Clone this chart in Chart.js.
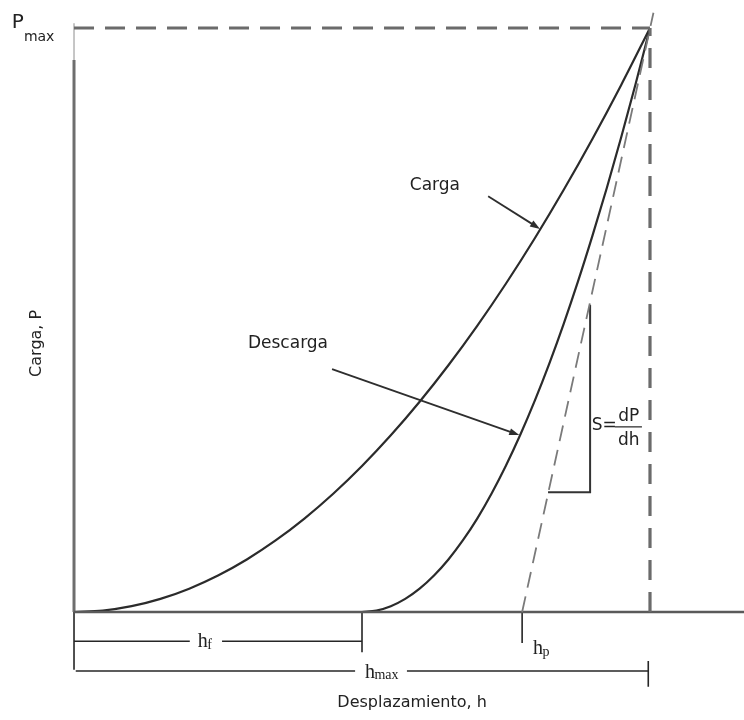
<!DOCTYPE html>
<html>
<head>
<meta charset="utf-8">
<script src="https://cdn.jsdelivr.net/npm/chart.js@4/dist/chart.umd.min.js"></script>
<style>
  html, body { margin: 0; padding: 0; background: #ffffff; }
  #c { display: block; }
</style>
</head>
<body>
<canvas id="c" width="744" height="720"></canvas>
<script>
// Indentation curve: displacement h (hmax = 100) and load P (Pmax = 100)
const H_LOAD   = [0, 5, 10, 15, 20, 25, 30, 35, 40, 45, 50, 55, 60, 65, 70, 75, 80, 85, 90, 95, 100];
const P_LOAD   = [0, 0.25, 1, 2.25, 4, 6.25, 9, 12.25, 16, 20.25, 25, 30.25, 36, 42.25, 49, 56.25, 64, 72.25, 81, 90.25, 100];

const H_UNLOAD = [50, 52.5, 55, 57.5, 60, 62.5, 65, 67.5, 70, 72.5, 75, 77.5, 80, 82.5, 85, 87.5, 90, 92.5, 95, 97.5, 100];
const P_UNLOAD = [0, 0.25, 1, 2.25, 4, 6.25, 9, 12.25, 16, 20.3, 25.1, 30.4, 36.2, 42.5, 49.3, 56.6, 64.4, 72.6, 81.3, 90.4, 100];

// Tangent to the unloading curve at Pmax (stiffness S = dP/dh)
const H_TANGENT = [77.8, 100.6];
const P_TANGENT = [0, 102.6];

// Characteristic depths and peak load
const H_F = 50;
const H_P = 77.8;
const H_MAX = 100;
const P_MAX = 100;

// Reference guides
const H_PMAX_GUIDE = [0, H_MAX];
const P_PMAX_GUIDE = [P_MAX, P_MAX];
const H_HMAX_GUIDE = [H_MAX, H_MAX];
const P_HMAX_GUIDE = [0, P_MAX];

// Axes
const H_X_AXIS = [0, 116.4];
const P_X_AXIS = [0, 0];
const H_Y_AXIS = [0, 0];
const P_Y_AXIS = [0, 94.5];
const P_Y_AXIS_TIP = [94.5, 100.8];

// Slope triangle
const H_TRIANGLE = [82.3, 89.6, 89.6];
const P_TRIANGLE = [20.5, 20.5, 52.6];

// Dimension lines under the axis
const H_HF_LEFT = [0, 20.1],  P_HF_LEFT = [-5.0, -5.0];
const H_HF_RIGHT = [25.7, H_F], P_HF_RIGHT = [-5.0, -5.0];
const H_HF_TICK = [H_F, H_F], P_HF_TICK = [0, -6.9];
const H_HP_TICK = [H_P, H_P], P_HP_TICK = [0, -5.3];
const H_ORIGIN_TICK = [0, 0], P_ORIGIN_TICK = [0, -9.9];
const H_HMAX_LEFT = [0.3, 48.8], P_HMAX_LEFT = [-10.1, -10.1];
const H_HMAX_RIGHT = [57.8, 99.7], P_HMAX_RIGHT = [-10.1, -10.1];
const H_HMAX_TICK = [99.7, 99.7], P_HMAX_TICK = [-8.4, -12.8];

function pts(hs, ps) { return hs.map((h, i) => ({ x: h, y: ps[i] })); }

function line(hs, ps, color, width, dash, smooth) {
  return {
    data: pts(hs, ps),
    showLine: true,
    borderColor: color,
    borderWidth: width,
    borderDash: dash || [],
    pointRadius: 0,
    fill: false,
    cubicInterpolationMode: smooth ? 'monotone' : 'default',
    tension: 0,
    borderCapStyle: 'butt'
  };
}

const GUIDE = '#6b6b6b';
const CURVE = '#2b2b2b';
const THIN = '#262626';

const datasets = [
  line(H_PMAX_GUIDE, P_PMAX_GUIDE, GUIDE, 3.2, [20, 11]),
  line(H_HMAX_GUIDE, P_HMAX_GUIDE, GUIDE, 3.2, [20, 12]),
  line(H_TANGENT, P_TANGENT, '#7a7a7a', 1.8, [16, 9]),
  line(H_X_AXIS, P_X_AXIS, '#5a5a5a', 2.6),
  line(H_Y_AXIS, P_Y_AXIS, '#6e6e6e', 3),
  line(H_Y_AXIS, P_Y_AXIS_TIP, '#a0a0a0', 1.2),
  line(H_LOAD, P_LOAD, CURVE, 2.2, null, true),
  line(H_UNLOAD, P_UNLOAD, CURVE, 2.2, null, true),
  line(H_TRIANGLE, P_TRIANGLE, '#333333', 2),
  line(H_HF_LEFT, P_HF_LEFT, THIN, 1.6),
  line(H_HF_RIGHT, P_HF_RIGHT, THIN, 1.6),
  line(H_HF_TICK, P_HF_TICK, THIN, 1.6),
  line(H_HP_TICK, P_HP_TICK, THIN, 1.6),
  line(H_ORIGIN_TICK, P_ORIGIN_TICK, THIN, 1.6),
  line(H_HMAX_LEFT, P_HMAX_LEFT, THIN, 1.6),
  line(H_HMAX_RIGHT, P_HMAX_RIGHT, THIN, 1.6),
  line(H_HMAX_TICK, P_HMAX_TICK, THIN, 1.6)
];

// Labels and arrows, placed in data units
const SANS = '"DejaVu Sans", sans-serif';
const SERIF = '"Liberation Serif", "Times New Roman", serif';

const annotations = {
  id: 'annotations',
  afterDatasetsDraw(chart) {
    const ctx = chart.ctx;
    const X = v => chart.scales.x.getPixelForValue(v);
    const Y = v => chart.scales.y.getPixelForValue(v);

    function text(str, h, p, font, align, baseline, color) {
      ctx.save();
      ctx.font = font;
      ctx.fillStyle = color || '#222222';
      ctx.textAlign = align || 'left';
      ctx.textBaseline = baseline || 'middle';
      ctx.fillText(str, X(h), Y(p));
      ctx.restore();
    }

    function arrow(h0, p0, h1, p1) {
      const x0 = X(h0), y0 = Y(p0), x1 = X(h1), y1 = Y(p1);
      const a = Math.atan2(y1 - y0, x1 - x0);
      const len = 10, half = 3.5;
      ctx.save();
      ctx.strokeStyle = '#2e2e2e';
      ctx.fillStyle = '#2e2e2e';
      ctx.lineWidth = 1.8;
      ctx.beginPath();
      ctx.moveTo(x0, y0);
      ctx.lineTo(x1 - Math.cos(a) * len * 0.8, y1 - Math.sin(a) * len * 0.8);
      ctx.stroke();
      ctx.beginPath();
      ctx.moveTo(x1, y1);
      ctx.lineTo(x1 - Math.cos(a) * len - Math.sin(a) * half, y1 - Math.sin(a) * len + Math.cos(a) * half);
      ctx.lineTo(x1 - Math.cos(a) * len + Math.sin(a) * half, y1 - Math.sin(a) * len - Math.cos(a) * half);
      ctx.closePath();
      ctx.fill();
      ctx.restore();
    }

    // curve labels
    text('Carga', 58.3, 73.1, '17px ' + SANS);
    arrow(71.9, 71.2, 80.9, 65.6);
    text('Descarga', 30.2, 45.9, '17px ' + SANS);
    arrow(44.8, 41.6, 77.3, 30.3);

    // P max
    text('P', -10.8, 100.9, '20px ' + SANS);
    text('max', -8.7, 98.4, '14px ' + SANS);

    // axis titles
    ctx.save();
    ctx.translate(X(-6.4), Y(46));
    ctx.rotate(-Math.PI / 2);
    ctx.font = '16px ' + SANS;
    ctx.fillStyle = '#222222';
    ctx.textAlign = 'center';
    ctx.textBaseline = 'middle';
    ctx.fillText('Carga, P', 0, 0);
    ctx.restore();
    text('Desplazamiento, h', 58.7, -15.6, '16px ' + SANS, 'center');

    // stiffness
    text('S=', 89.9, 32.0, '17px ' + SANS);
    text('dP', 96.3, 33.5, '17px ' + SANS, 'center');
    ctx.save();
    ctx.strokeStyle = '#222222';
    ctx.lineWidth = 1.2;
    ctx.beginPath();
    ctx.moveTo(X(93.9), Y(31.7));
    ctx.lineTo(X(98.6), Y(31.7));
    ctx.stroke();
    ctx.restore();
    text('dh', 96.3, 29.3, '17px ' + SANS, 'center');

    // depth labels
    function depth(sub, h, p, subDrop) {
      ctx.save();
      ctx.font = '20px ' + SERIF;
      ctx.fillStyle = '#222222';
      ctx.textAlign = 'left';
      ctx.textBaseline = 'alphabetic';
      const x0 = X(h), y0 = Y(p);
      ctx.fillText('h', x0, y0);
      const w = ctx.measureText('h').width;
      ctx.font = '14px ' + SERIF;
      ctx.fillText(sub, x0 + w - 0.5, y0 + subDrop);
      ctx.restore();
    }
    depth('f', 21.5, -6.0, 2);
    depth('max', 50.5, -11.3, 1);
    depth('p', 79.7, -7.2, 2);
  }
};

new Chart(document.getElementById('c'), {
  type: 'scatter',
  data: { datasets },
  options: {
    responsive: false,
    animation: false,
    layout: { padding: 0 },
    plugins: { legend: { display: false }, tooltip: { enabled: false } },
    scales: {
      x: { type: 'linear', min: -12.85, max: 116.32, display: false },
      y: { type: 'linear', min: -18.49, max: 104.79, display: false }
    }
  },
  plugins: [annotations]
});
</script>
</body>
</html>
